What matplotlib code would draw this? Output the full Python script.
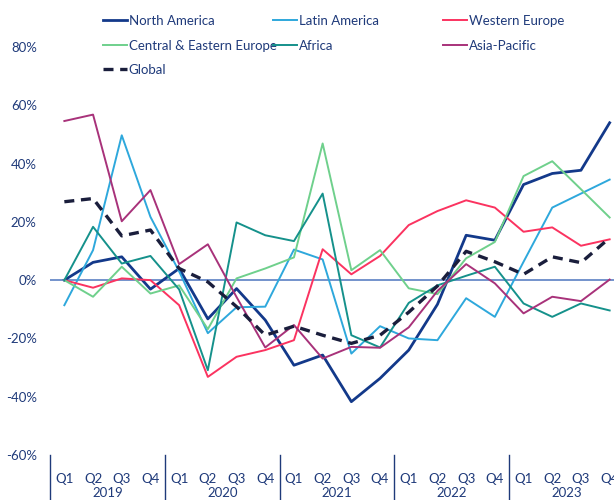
import matplotlib
matplotlib.use("Agg")
import matplotlib.pyplot as plt
from matplotlib.transforms import blended_transform_factory

plt.rcParams['font.family'] = ['Lato', 'DejaVu Sans']

# quarterly growth, Q1 2019 .. Q4 2023 (%)
quarters = ["Q1", "Q2", "Q3", "Q4"] * 5
years = ["2019", "2020", "2021", "2022", "2023"]

north_america = [0, 6.1, 8.0, -3.1, 4.0, -13.3, -2.9, -13.7, -29.2, -25.7,
                 -41.7, -33.7, -24.0, -8.3, 15.4, 13.7, 32.8, 36.6, 37.7, 54.0]
latin_america = [-8.6, 10.3, 49.7, 21.7, 3.0, -18.2, -9.3, -9.1, 10.5, 7.1,
                 -25.2, -15.8, -20.0, -20.6, -6.2, -12.6, 6.3, 24.9, 29.7, 34.5]
western_europe = [0, -2.6, 0.6, 0, -8.6, -33.2, -26.3, -24.0, -20.6, 10.6,
                  2.0, 8.3, 18.9, 23.7, 27.4, 24.9, 16.6, 18.1, 11.8, 14.0]
ce_europe = [0, -5.7, 4.6, -4.6, -1.8, -16.8, 0.6, 4.0, 7.8, 46.9,
             3.4, 10.3, -2.8, -4.8, 7.5, 13.1, 35.7, 40.8, 31.2, 21.5]
africa = [0, 18.3, 5.7, 8.3, -3.2, -30.9, 19.8, 15.4, 13.4, 29.7,
          -18.9, -23.1, -7.8, -1.8, 1.5, 4.6, -8.0, -12.6, -8.0, -10.4]
asia_pacific = [54.6, 56.8, 20.2, 30.9, 5.5, 12.3, -5.8, -23.1, -15.4, -26.9,
                -22.9, -23.2, -16.2, -3.7, 5.5, -1.1, -11.4, -5.7, -7.2, 0.2]
global_ = [26.9, 28.0, 15.2, 17.2, 4.0, -0.6, -9.1, -18.9, -15.8, -18.9,
           -21.7, -18.9, -11.0, -2.0, 9.9, 6.3, 2.0, 8.0, 6.0, 14.5]

navy = "#1f3a7a"
x = list(range(len(quarters)))

fig = plt.figure(figsize=(6.14, 5.0), dpi=100)
ax = fig.add_axes([50 / 614, 45 / 500, 574 / 614, 408 / 500])

ax.axhline(0, color="#5b80c4", lw=1.2, zorder=1)

l_na, = ax.plot(x, north_america, color="#13398a", lw=2.0, label="North America")
l_la, = ax.plot(x, latin_america, color="#2ea8dc", lw=1.4, label="Latin America")
l_we, = ax.plot(x, western_europe, color="#fb3360", lw=1.4, label="Western Europe")
l_ce, = ax.plot(x, ce_europe, color="#6fd08c", lw=1.4, label="Central & Eastern Europe")
l_af, = ax.plot(x, africa, color="#15918b", lw=1.4, label="Africa")
l_ap, = ax.plot(x, asia_pacific, color="#a8327a", lw=1.4, label="Asia-Pacific")
l_gl, = ax.plot(x, global_, color="#1a1e3c", lw=2.4, ls=(0, (3, 2)), label="Global")

ax.set_xlim(-0.5, 19.5)
ax.set_ylim(-60, 80)
ax.set_yticks(range(-60, 81, 20))
ax.set_yticklabels([f"{v}%" for v in range(-60, 81, 20)])
ax.set_xticks(x)
ax.set_xticklabels(quarters)
ax.tick_params(axis="y", length=0, pad=9.5, labelsize=9.5, labelcolor=navy)
ax.tick_params(axis="x", length=0, pad=13, labelsize=9.5, labelcolor=navy)
for s in ax.spines.values():
    s.set_visible(False)

trans = blended_transform_factory(ax.transData, ax.transAxes)
for k, yr in enumerate(years):
    ax.plot([k * 4 - 0.5, k * 4 - 0.5], [0, -0.12], color=navy, lw=1,
            transform=trans, clip_on=False)
    ax.text(k * 4 + 1.5, -0.093, yr, transform=trans, ha="center", va="center",
            fontsize=9.5, color=navy)

# legend: three columns placed like the original
cols = [([l_na, l_ce, l_gl], 103), ([l_la, l_af], 273), ([l_we, l_ap], 443)]
for handles, xpx in cols:
    leg = fig.legend(handles=handles, loc="upper left",
                     bbox_to_anchor=(xpx / 614, 1 - 15 / 500), frameon=False,
                     fontsize=9.5, handlelength=1.8, handletextpad=0.15,
                     labelspacing=0.95, borderaxespad=0, borderpad=0)
    for t in leg.get_texts():
        t.set_color(navy)

fig.savefig("out.png", dpi=100)
